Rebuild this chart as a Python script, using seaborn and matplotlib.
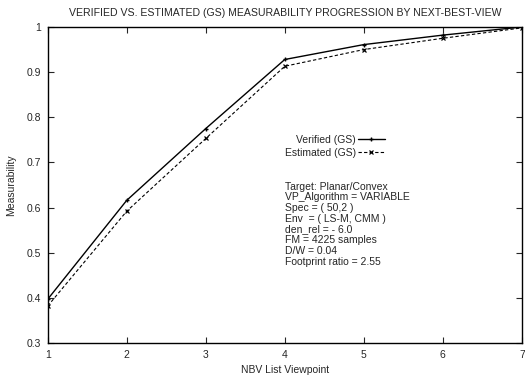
import matplotlib
matplotlib.use("Agg")
import matplotlib.pyplot as plt
import seaborn as sns
import pandas as pd

viewpoints = [1, 2, 3, 4, 5, 6, 7]
verified = [0.397, 0.616, 0.775, 0.928, 0.961, 0.982, 1.0]
estimated = [0.382, 0.592, 0.753, 0.913, 0.950, 0.975, 0.998]
y_ticks = [0.3, 0.4, 0.5, 0.6, 0.7, 0.8, 0.9, 1.0]
y_tick_labels = ["0.3", "0.4", "0.5", "0.6", "0.7", "0.8", "0.9", "1"]
info_lines = [
    "Target: Planar/Convex",
    "VP_Algorithm = VARIABLE",
    "Spec = ( 50,2 )",
    "Env  = ( LS-M, CMM )",
    "den_rel = - 6.0",
    "FM = 4225 samples",
    "D/W = 0.04",
    "Footprint ratio = 2.55",
]

sns.set_style("ticks")
plt.rcParams["font.family"] = ["Liberation Sans", "DejaVu Sans"]

fig = plt.figure(figsize=(5.25, 3.79), dpi=100)
ax = fig.add_axes([0.0909, 0.095, 0.9031, 0.8338])

df = pd.DataFrame({"x": viewpoints, "Verified (GS)": verified, "Estimated (GS)": estimated})

sns.lineplot(data=df, x="x", y="Verified (GS)", ax=ax, color="black", lw=1.0,
             marker="+", markersize=3.5, markeredgewidth=1.0, markeredgecolor="black",
             label="Verified (GS)")
sns.lineplot(data=df, x="x", y="Estimated (GS)", ax=ax, color="black", lw=0.8,
             linestyle=(0, (3, 2)), marker="x", markersize=3.2, markeredgewidth=0.9,
             markeredgecolor="black", label="Estimated (GS)")

ax.set_xlim(1, 7)
ax.set_ylim(0.3, 1.0)
ax.set_xticks(viewpoints)
ax.set_xticklabels([str(v) for v in viewpoints])
ax.set_yticks(y_ticks)
ax.set_yticklabels(y_tick_labels)
ax.tick_params(direction="in", top=True, right=True, length=4, width=0.8,
               labelsize=7.5, pad=5)
for s in ax.spines.values():
    s.set_linewidth(1.0)
    s.set_color("black")

ax.set_xlabel("NBV List Viewpoint", fontsize=7.5, labelpad=4)
ax.set_ylabel("Measurability", fontsize=7.5, labelpad=7)
ax.set_title("VERIFIED VS. ESTIMATED (GS) MEASURABILITY PROGRESSION BY NEXT-BEST-VIEW",
             fontsize=7.6, pad=8)

leg = ax.legend(loc="upper right", bbox_to_anchor=(0.711, 0.659), frameon=False,
                markerfirst=False, fontsize=7.5, handlelength=2.6,
                handletextpad=0.15, labelspacing=0.3, borderaxespad=0,
                borderpad=0)
for t in leg.get_texts():
    t.set_ha("right")

ax.text(0.500, 0.511, "\n".join(info_lines), transform=ax.transAxes,
        fontsize=7.5, va="top", ha="left", linespacing=1.09)

fig.savefig("out.png", dpi=100)
